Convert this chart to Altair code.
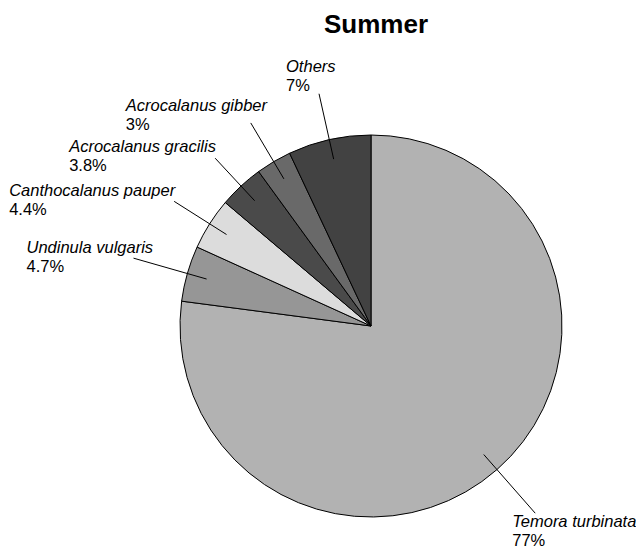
import math
import altair as alt
import pandas as pd

# ---- data ----
species = ["Temora turbinata", "Undinula vulgaris", "Canthocalanus pauper",
           "Acrocalanus gracilis", "Acrocalanus gibber", "Others"]
values = [77, 4.7, 4.4, 3.8, 3, 7]
pct_labels = ["77%", "4.7%", "4.4%", "3.8%", "3%", "7%"]
title_text = ["Summer"]

# ---- styling ----
colors = ["#b2b2b2", "#969696", "#dcdcdc", "#4a4a4a", "#696969", "#424242"]
W, H = 628, 540
CX, CY, R = 363, 318, 191
R_IN = 171
r_out = [249, 247, 233, 229, 236, 238]          # leader line outer radius
label_dx = [-23, -107, -165, -146, -125, -33]   # name anchor relative to line end
label_dy = [14, -5.5, -5, -6, -11.5, -21.5]
LINE_GAP = 19
FONT = "Liberation Sans"
TITLE_X, TITLE_Y = 368, 25.3

total = sum(values)
rows = []
cum = 0.0
for i, (s, v) in enumerate(zip(species, values)):
    mid = (cum + v / 2) / total
    cum += v
    a = 2 * math.pi * mid
    x1 = CX + R_IN * math.sin(a)
    y1 = CY - R_IN * math.cos(a)
    x2 = CX + r_out[i] * math.sin(a)
    y2 = CY - r_out[i] * math.cos(a)
    rows.append(dict(idx=i, species=s, value=v, pct=pct_labels[i],
                     x1=x1, y1=y1, x2=x2, y2=y2,
                     tx=x2 + label_dx[i], ty=y2 + label_dy[i],
                     ty2=y2 + label_dy[i] + LINE_GAP))
df = pd.DataFrame(rows)
tdf = pd.DataFrame({"title": title_text, "x": [TITLE_X], "y": [TITLE_Y]})

xs = alt.Scale(domain=[0, W], nice=False, zero=False)
ys = alt.Scale(domain=[0, H], nice=False, zero=False, reverse=True)

arc = alt.Chart(df).mark_arc(outerRadius=R, stroke="black", strokeWidth=1).encode(
    theta=alt.Theta("value:Q", stack=True),
    color=alt.Color("species:N", scale=alt.Scale(domain=species, range=colors), legend=None),
    order=alt.Order("idx:Q", sort="ascending"),
    x=alt.value(CX),
    y=alt.value(CY),
)

rules = alt.Chart(df).mark_rule(color="black", strokeWidth=1).encode(
    x=alt.X("x1:Q", scale=xs, axis=None),
    y=alt.Y("y1:Q", scale=ys, axis=None),
    x2="x2:Q",
    y2="y2:Q",
)

names = alt.Chart(df).mark_text(
    align="left", baseline="alphabetic", font=FONT, fontSize=16.5,
    fontStyle="italic", color="black"
).encode(
    x=alt.X("tx:Q", scale=xs, axis=None),
    y=alt.Y("ty:Q", scale=ys, axis=None),
    text="species:N",
)

pcts = alt.Chart(df).mark_text(
    align="left", baseline="alphabetic", font=FONT, fontSize=16.5, color="black"
).encode(
    x=alt.X("tx:Q", scale=xs, axis=None),
    y=alt.Y("ty2:Q", scale=ys, axis=None),
    text="pct:N",
)

title = alt.Chart(tdf).mark_text(
    align="center", baseline="alphabetic", font=FONT, fontSize=26,
    fontWeight="bold", color="black"
).encode(
    x=alt.X("x:Q", scale=xs, axis=None),
    y=alt.Y("y:Q", scale=ys, axis=None),
    text="title:N",
)

chart = alt.layer(arc, rules, names, pcts, title).properties(
    width=W, height=H,
    autosize=alt.AutoSizeParams(type="none"),
    padding=0,
).configure_view(stroke=None)

chart.save("out.html", embed_options={"renderer": "svg", "actions": False})
